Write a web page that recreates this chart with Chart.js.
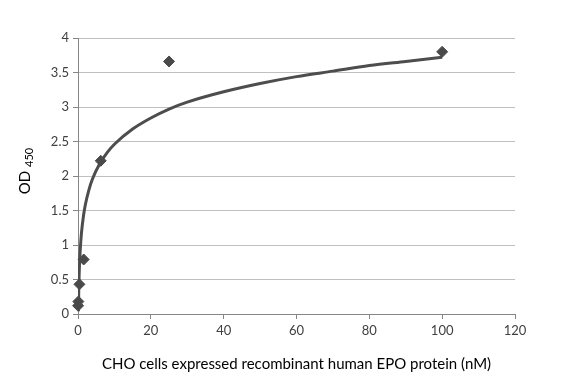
<!DOCTYPE html>
<html>
<head>
<meta charset="utf-8">
<script src="https://cdn.jsdelivr.net/npm/chart.js@4/dist/chart.umd.min.js"></script>
<style>
  html, body { margin: 0; padding: 0; background: #fff; }
  #wrap { width: 582px; height: 382px; }
</style>
</head>
<body>
<div id="wrap"><canvas id="grafico" width="582" height="382"></canvas></div>
<script>
// --- datos medidos ---
const concNM = [100, 25, 6.25, 1.5625, 0.39, 0.098, 0.024];
const od450 = [3.80, 3.66, 2.22, 0.79, 0.43, 0.18, 0.12];

// curva de tendencia
const curveX = [0.12, 0.2, 0.3, 0.5, 0.75, 1, 1.5, 2, 3, 4, 6, 8, 10, 15, 20, 25, 30, 40, 50, 60, 70, 80, 90, 100];
const curveY = [0.04, 0.33, 0.55, 0.82, 1.04, 1.2, 1.42, 1.58, 1.8, 1.96, 2.18, 2.34, 2.46, 2.68, 2.84, 2.97, 3.07, 3.22, 3.34, 3.44, 3.52, 3.6, 3.66, 3.72];

const xTicks = [0, 20, 40, 60, 80, 100, 120];
const yTicks = [0, 0.5, 1, 1.5, 2, 2.5, 3, 3.5, 4];

const FONT = "Lato, 'Open Sans', sans-serif";

// titulo del eje Y con subindice
const yTitlePlugin = {
    id: 'yTitle',
    afterDraw(chart) {
        const ctx = chart.ctx;
        const area = chart.chartArea;
        ctx.save();
        ctx.translate(30, (area.top + area.bottom) / 2 - 5);
        ctx.rotate(-Math.PI / 2);
        ctx.fillStyle = '#000';
        ctx.textBaseline = 'alphabetic';
        ctx.font = "15px " + FONT;
        const w1 = ctx.measureText('OD ').width;
        ctx.font = "11px " + FONT;
        const w2 = ctx.measureText('450').width;
        const start = -(w1 + w2) / 2;
        ctx.font = "15px " + FONT;
        ctx.textAlign = 'left';
        ctx.fillText('OD ', start, 0);
        ctx.font = "11px " + FONT;
        ctx.fillText('450', start + w1, 3);
        ctx.restore();
    }
};

new Chart(document.getElementById('grafico'), {
    type: 'scatter',
    data: {
        datasets: [{
            label: 'curva',
            type: 'line',
            data: curveX.map((x, i) => ({ x: x, y: curveY[i] })),
            borderColor: '#4d4d4d',
            borderWidth: 3,
            pointRadius: 0,
            fill: false,
            cubicInterpolationMode: 'monotone',
            order: 2
        }, {
            label: 'OD450',
            data: concNM.map((x, i) => ({ x: x, y: od450[i] })),
            pointStyle: 'rectRot',
            pointRadius: 5.5,
            backgroundColor: '#4a4a4a',
            borderColor: '#4a4a4a',
            borderWidth: 1,
            clip: false,
            order: 1
        }]
    },
    options: {
        responsive: false,
        animation: false,
        layout: { padding: { left: 0, right: 67, top: 38, bottom: 0 } },
        plugins: {
            legend: { display: false },
            tooltip: { enabled: false }
        },
        scales: {
            x: {
                type: 'linear',
                min: 0,
                max: 120,
                afterBuildTicks: s => { s.ticks = xTicks.map(v => ({ value: v })); },
                afterFit: s => { s.height = 68; },
                grid: { drawOnChartArea: false, drawTicks: true, tickLength: 5, color: '#868686' },
                border: { color: '#868686', width: 1 },
                ticks: { color: '#404040', font: { family: FONT, size: 13 }, padding: 4, callback: v => String(v) },
                title: {
                    display: true,
                    text: 'CHO cells expressed recombinant human EPO protein (nM)',
                    color: '#000',
                    font: { family: FONT, size: 15 },
                    padding: { top: 4, bottom: 9 }
                }
            },
            y: {
                min: 0,
                max: 4,
                afterBuildTicks: s => { s.ticks = yTicks.map(v => ({ value: v })); },
                afterFit: s => { s.width = 78; },
                grid: { color: '#c0c0c0', tickLength: 5, tickColor: '#868686' },
                border: { color: '#868686', width: 1 },
                ticks: { color: '#404040', font: { family: FONT, size: 13 }, padding: 4, callback: v => String(v) }
            }
        }
    },
    plugins: [yTitlePlugin]
});
</script>
</body>
</html>
